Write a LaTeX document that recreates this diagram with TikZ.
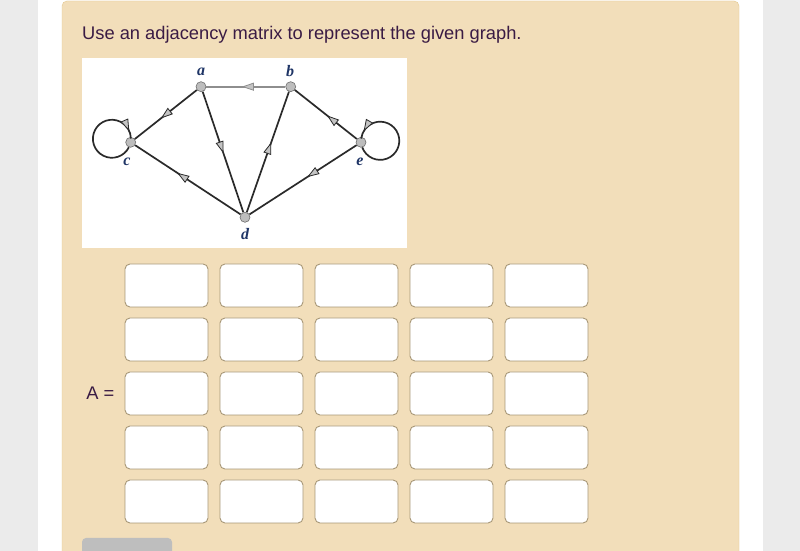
\documentclass[tikz,border=0pt]{standalone}
\usepackage{fontspec}
\setmainfont{Liberation Sans}
\newfontfamily\vertexfont{Liberation Serif}
\usepackage{xcolor}
\usetikzlibrary{arrows.meta,decorations.markings,positioning}

\definecolor{pagegray}{HTML}{EBEBEB}
\definecolor{beige}{HTML}{F2DEBA}
\definecolor{beigeline}{HTML}{E3C88F}
\definecolor{cellline}{HTML}{A89878}
\definecolor{titlecolor}{HTML}{3A1B44}
\definecolor{vertexfill}{HTML}{BDBDBD}
\definecolor{vertexline}{HTML}{6E6E6E}
\definecolor{edgecolor}{HTML}{2A2A2A}
\definecolor{abgray}{HTML}{8E8E8E}
\definecolor{arrowfill}{HTML}{C4C4C4}
\definecolor{labelblue}{HTML}{1F3566}
\definecolor{buttongray}{HTML}{BEBEBE}

\begin{document}
\begin{tikzpicture}[x=1pt,y=1pt,
    vertex/.style={circle,draw=vertexline,fill=vertexfill,line width=0.6pt,minimum size=10pt,inner sep=0pt},
    vlabel/.style={font=\vertexfont\bfseries\itshape\fontsize{16}{16}\selectfont,text=labelblue,inner sep=0pt},
    edge/.style={draw=edgecolor,line width=1.7pt},
    midarrow/.style={postaction={decorate,decoration={markings,mark=at position #1 with {\arrow{Triangle[length=12pt,width=8pt,fill=arrowfill,line width=0.8pt]}}}}},
    midarrow/.default=0.55,
    cell/.style={draw=cellline,fill=white,rounded corners=5pt,line width=0.9pt,minimum width=83pt,minimum height=43pt,inner sep=0pt},
    prompt/.style={text=titlecolor,font=\fontsize{18.3}{22}\selectfont,inner sep=0pt}]

    \useasboundingbox (0,0) rectangle (800,551);
    \clip (0,0) rectangle (800,551);
    \fill[pagegray] (0,0) rectangle (800,551);
    \fill[white] (38,0) rectangle (763,551);
    \draw[beigeline,fill=beige,rounded corners=5pt] (62,-10) rectangle (739,550);

    \node[prompt,anchor=base west] (title) at (82,511) {Use an adjacency matrix to represent the given graph.};

    % the graph
    \fill[white] (82,303) rectangle (407,493);

    \node[vertex] (a) at (201,464.3) {};
    \node[vertex] (b) at (290.7,464.3) {};
    \node[vertex] (c) at (130.7,408.7) {};
    \node[vertex] (e) at (361,408.7) {};
    \node[vertex] (d) at (245,333.7) {};

    \node[vlabel] (la) at (201,479) {a};
    \node[vlabel] (lb) at (290,480) {b};
    \node[vlabel] (lc) at (127,389) {c};
    \node[vlabel] (le) at (360,389) {e};
    \node[vlabel] (ld) at (245,317) {d};

    \draw[edge,draw=abgray,midarrow=0.55] (b) -- (a);
    \draw[edge,midarrow=0.58] (a) -- (c);
    \draw[edge,midarrow=0.51] (a) -- (d);
    \draw[edge,midarrow=0.58] (d) -- (b);
    \draw[edge,midarrow=0.48] (e) -- (b);
    \draw[edge,midarrow=0.6] (d) -- (c);
    \draw[edge,midarrow=0.46] (e) -- (d);

    \draw[edge,midarrow=0.93] (c.250) arc[start angle=-26.6,delta angle=-332.8,radius=19];
    \draw[edge,midarrow=0.93] (e.-76) arc[start angle=200.4,delta angle=333,radius=19.1];

    % answer boxes
    \foreach \row in {1,...,5}
        \foreach \col in {1,...,5}
            \node[cell] (m-\row-\col) at ({166.5+95*(\col-1)},{265.5-54*(\row-1)}) {};

    \node[prompt,left=10pt of m-3-1] (lhs) {A =};

    \fill[buttongray,rounded corners=4pt] (82,-10) rectangle (172,13);
\end{tikzpicture}
\end{document}
